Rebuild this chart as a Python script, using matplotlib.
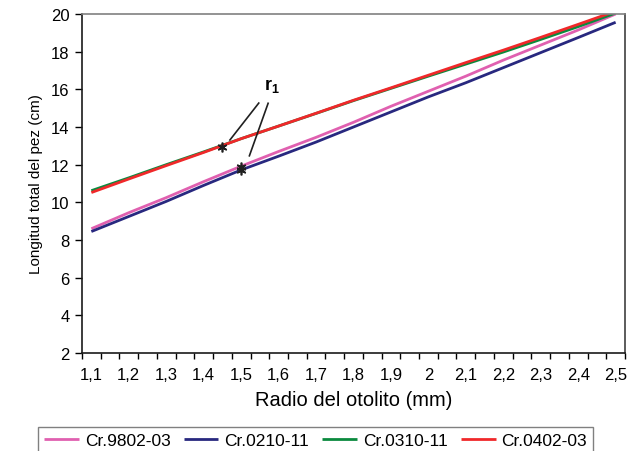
import matplotlib
matplotlib.use('Agg')
import matplotlib.pyplot as plt
from matplotlib.ticker import FixedLocator

plt.rcParams['font.family'] = ['Liberation Sans', 'DejaVu Sans']
plt.rcParams['mathtext.fontset'] = 'custom'
plt.rcParams['mathtext.bf'] = 'Liberation Sans:bold'
plt.rcParams['mathtext.rm'] = 'Liberation Sans'

# radio del otolito (mm)
radio = [1.1, 1.2, 1.3, 1.4, 1.5, 1.6, 1.7, 1.8, 1.9, 2.0, 2.1, 2.2, 2.3, 2.4, 2.5]
radio_labels = ['1,1', '1,2', '1,3', '1,4', '1,5', '1,6', '1,7', '1,8', '1,9', '2',
                '2,1', '2,2', '2,3', '2,4', '2,5']

# longitud total (cm)
cr9802 = [8.60, 9.45, 10.25, 11.10, 11.92, 12.70, 13.45, 14.25, 15.10, 15.90,
          16.70, 17.55, 18.35, 19.15, 20.00]
cr0210 = [8.45, 9.25, 10.05, 10.90, 11.72, 12.45, 13.20, 14.00, 14.80, 15.60,
          16.35, 17.15, 17.95, 18.75, 19.56]
cr0310 = [10.62, 11.30, 12.00, 12.68, 13.38, 14.05, 14.72, 15.40, 16.05, 16.70,
          17.34, 17.98, 18.65, 19.33, 20.05]
cr0402 = [10.52, 11.24, 11.95, 12.65, 13.38, 14.05, 14.73, 15.42, 16.08, 16.75,
          17.42, 18.08, 18.76, 19.45, 20.15]

series = [('Cr.9802-03', cr9802, '#e060b0'),
          ('Cr.0210-11', cr0210, '#28287f'),
          ('Cr.0310-11', cr0310, '#0b8a3e'),
          ('Cr.0402-03', cr0402, '#f0282a')]

# r1 points and pointer lines
r1_x = [1.45, 1.50, 1.50]
r1_y = [12.92, 11.90, 11.72]
r1_text = (1.56, 15.75)
r1_lines = [((1.547, 15.27), (1.47, 13.31)),
            ((1.572, 15.26), (1.522, 12.47))]

fig = plt.figure(figsize=(6.34, 4.52), dpi=100)
ax = fig.add_axes([82 / 634, 1 - 354 / 452, 543 / 634, 339 / 452])

for name, vals, col in series:
    ax.plot(radio, vals, color=col, lw=2.0, label=name, solid_capstyle='butt')

ax.plot(r1_x, r1_y, linestyle='none', marker=(6, 2, 0), ms=7, mew=1.2, color='#202020')
for (p0, p1) in r1_lines:
    ax.plot([p0[0], p1[0]], [p0[1], p1[1]], color='#202020', lw=1.2)
ax.text(r1_text[0], r1_text[1], r'$\mathbf{r}_{\mathbf{1}}$', fontsize=13, ha='left', va='bottom')

ax.set_xlim(1.075, 2.525)
ax.set_ylim(2, 20)
ax.set_xticks(radio)
ax.set_xticklabels(radio_labels)
ax.tick_params(axis='x', which='major', length=0, pad=10, labelsize=12)
ax.xaxis.set_minor_locator(FixedLocator([1.075 + 0.05 * k for k in range(30)]))
ax.tick_params(axis='x', which='minor', length=4, width=1, direction='out')
ax.set_yticks(range(2, 21, 2))
ax.tick_params(axis='y', length=5, width=1, direction='out', labelsize=12, pad=4)

ax.spines['left'].set_color('#1a1a1a')
ax.spines['bottom'].set_color('#1a1a1a')
ax.spines['right'].set_color('#404040')
ax.spines['top'].set_color('#808080')
for s in ax.spines.values():
    s.set_linewidth(1.2)

ax.set_xlabel('Radio del otolito (mm)', fontsize=14.5, labelpad=6)
ax.set_ylabel('Longitud total del pez (cm)', fontsize=11, labelpad=6)

leg = fig.legend(loc='upper left', bbox_to_anchor=(38 / 634, 1 - 428 / 452),
                 ncol=4, frameon=True, fancybox=False, fontsize=12.5,
                 handlelength=2.0, handletextpad=0.35, columnspacing=0.75,
                 borderpad=0.35, borderaxespad=0)
leg.get_frame().set_edgecolor('#606060')
leg.get_frame().set_linewidth(1.0)

fig.savefig('out.png', dpi=100)
